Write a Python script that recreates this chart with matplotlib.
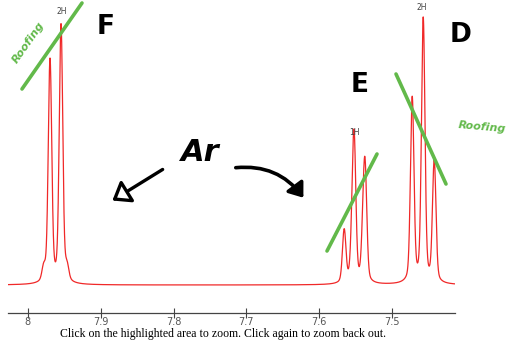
import numpy as np
import matplotlib
matplotlib.use("Agg")
import matplotlib.pyplot as plt
from matplotlib.lines import Line2D
from matplotlib.patches import FancyArrowPatch

# ---- data ----
peak_ppm = [7.978, 7.9694, 7.9543, 7.946,
            7.5659, 7.5549, 7.5522, 7.5398, 7.5371,
            7.4726, 7.4575, 7.4424]
peak_height = [0.05, 0.845, 0.977, 0.05,
               0.20, 0.12, 0.51, 0.16, 0.38,
               0.70, 1.00, 0.46]
tick_values = [8.0, 7.9, 7.8, 7.7, 7.6, 7.5]
tick_labels = ["8", "7.9", "7.8", "7.7", "7.6", "7.5"]
integrals = ["2H", "1H", "2H"]
integral_ppm = [7.953, 7.552, 7.459]
integral_height = [1.02, 0.56, 1.035]
x_range = (8.0266, 7.4139)
caption = "Click on the highlighted area to zoom. Click again to zoom back out."

W, H = 508, 341
fig = plt.figure(figsize=(W / 100, H / 100), dpi=100)
fig.patch.set_facecolor("white")

def fx(x):
    return x / W

def fy(y):
    return 1 - y / H

ax = fig.add_axes([fx(8.3), fy(313), (455 - 8.3) / W, (313 - 10) / H])
ax.set_xlim(*x_range)
ax.set_ylim(-0.106, 1.042)

ppm = np.linspace(x_range[0], x_range[1], 6000)
sig = 0.0023
gam = 0.0040
eta = 0.2
spec = np.zeros_like(ppm)
for c, h in zip(peak_ppm, peak_height):
    g = np.exp(-((ppm - c) ** 2) / (2 * sig ** 2))
    l = 1 / (1 + ((ppm - c) / gam) ** 2)
    spec += h * ((1 - eta) * g + eta * l)
ax.plot(ppm, spec, color="#f02828", lw=0.9)

for t, p, hh in zip(integrals, integral_ppm, integral_height):
    ax.text(p, hh, t, ha="center", va="bottom", fontsize=5.5, color="#444444")

for s in ["left", "right", "top"]:
    ax.spines[s].set_visible(False)
ax.spines["bottom"].set_color("#444444")
ax.spines["bottom"].set_linewidth(0.9)
ax.set_yticks([])
ax.set_xticks(tick_values)
ax.set_xticklabels(tick_labels)
ax.tick_params(axis="x", direction="inout", length=7, width=0.8, color="#444444",
               labelsize=7, labelcolor="#555555", pad=-0.5)

# ---- handwritten annotations ----
green = "#62b94a"

def gline(x1, y1, x2, y2):
    fig.add_artist(Line2D([fx(x1), fx(x2)], [fy(y1), fy(y2)], color=green, lw=2.6,
                          solid_capstyle="round", transform=fig.transFigure))

gline(22, 89, 82, 3)
gline(396, 74, 446, 184)
gline(327, 251, 377, 154)

fig.text(fx(28), fy(42), "Roofing", color=green, fontsize=8, fontweight="bold",
         rotation=55, ha="center", va="center", fontstyle="italic")
fig.text(fx(482), fy(127), "Roofing", color=green, fontsize=8, fontweight="bold",
         rotation=-5, ha="center", va="center", fontstyle="italic")

for letter, x, y in [("F", 106, 27), ("E", 360, 85), ("D", 461, 35)]:
    fig.text(fx(x), fy(y), letter, color="black", fontsize=19, fontweight="bold",
             ha="center", va="center")
fig.text(fx(200), fy(152), "Ar", color="black", fontsize=22, fontweight="bold",
         ha="center", va="center", fontstyle="italic")

fig.add_artist(FancyArrowPatch(
    (fx(165), fy(168)), (fx(110), fy(202)), transform=fig.transFigure,
    arrowstyle="-|>,head_length=6,head_width=4.5", mutation_scale=1.7,
    lw=2.4, color="black", fc="white"))
fig.add_artist(FancyArrowPatch(
    (fx(233), fy(168)), (fx(305), fy(200)), transform=fig.transFigure,
    connectionstyle="arc3,rad=-0.3",
    arrowstyle="-|>,head_length=4,head_width=3", mutation_scale=2,
    lw=2.6, color="black"))

fig.text(fx(223), fy(334), caption, ha="center", va="center",
         family="Liberation Serif", fontsize=8.5, color="black")

fig.savefig("out.png", dpi=100, facecolor="white")
